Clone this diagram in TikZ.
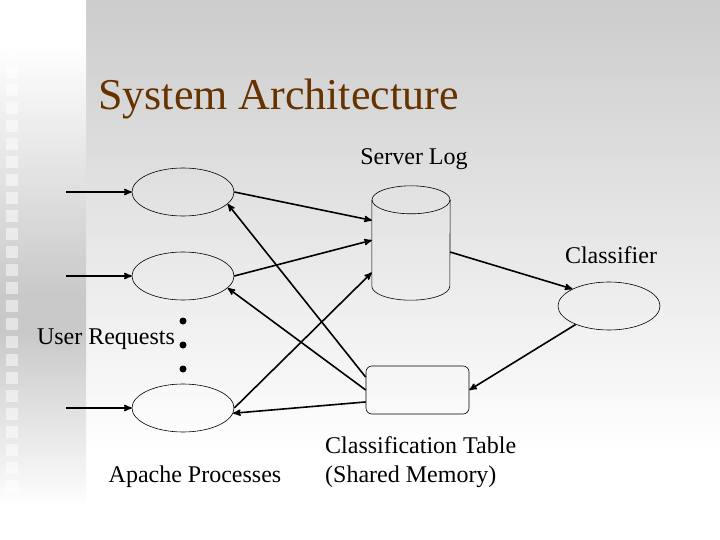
\documentclass[tikz,border=0pt]{standalone}
\usepackage{fontspec}
\setmainfont{Liberation Serif}
\usepackage{tikz}
\usetikzlibrary{calc}
\usetikzlibrary{arrows,shapes}
\definecolor{titlebrown}{RGB}{102,51,0}
\pgfdeclareverticalshading{mainfade}{100bp}{color(0bp)=(white); color(33bp)=(white); color(75bp)=(rgb:black,51;white,204); color(100bp)=(rgb:black,51;white,204)}
\pgfdeclareverticalshading{stripfade}{100bp}{color(0bp)=(white); color(28bp)=(white); color(44bp)=(black!21!white); color(48bp)=(black!21!white); color(71bp)=(white); color(100bp)=(white)}
\newcommand{\LabelFont}{\fontsize{24}{29}\selectfont}
\newcommand{\TitleFont}{\fontsize{44}{50}\selectfont}

\begin{document}
\begin{tikzpicture}[x=1pt,y=-1pt,>=stealth'
        ,process/.style = {draw=black,line width=.6pt,ellipse,inner sep=0pt,minimum width=102pt,minimum height=48pt}
        ,store/.style = {rectangle,inner sep=0pt,minimum width=78pt,minimum height=114pt}
        ,outline/.style = {draw=black,line width=.6pt}
        ,tablebox/.style = {draw=black,line width=.6pt,rectangle,rounded corners=6pt,inner sep=0pt,minimum width=103pt,minimum height=48pt}
        ,dot/.style = {circle,fill=black,inner sep=0pt,minimum size=7pt}
        ,label/.style = {font=\LabelFont,inner sep=0pt}
        ,link/.style = {->,line width=1.6pt}
      ]

      \useasboundingbox (0,0) rectangle (720,540);
      \fill[shading=mainfade] (86,0) rectangle (720,540);
      \fill[shading=stripfade] (0,0) rectangle (86,540);
      \foreach \y in {30,48,...,480}
        \fill[white,opacity=.5] (6,\y) rectangle (18,\y+12);

      \node[font=\TitleFont,text=titlebrown,inner sep=0pt,anchor=base west](title) at (98,110) {System Architecture};

      \node[process](procone) at (183,192) {};
      \node[process](proctwo) at (183,276) {};
      \node[process](procthree) at (183,408) {};
      \node[store](log) at (411,243) {};
      \node[process](classifier) at (609,306) {};
      \node[tablebox](table) at (417.5,390) {};

      \draw[outline] ($(log.north)+(0,14)$) circle [x radius=39pt,y radius=14pt];
      \draw[outline] ($(log.north west)+(0,14)$) -- ($(log.south west)+(0,-14)$)
        arc [start angle=180,end angle=360,x radius=39pt,y radius=14pt]
        -- ($(log.north east)+(0,14)$);

      \node[dot](dotone) at (183,321) {};
      \node[dot](dottwo) at (183,345) {};
      \node[dot](dotthree) at (183,369) {};

      \node[label](loglabel) at (414,159) {Server Log};
      \node[label](classifierlabel) at (611,255) {Classifier};
      \node[label](userlabel) at (106,339) {User Requests};
      \node[label](apachelabel) at (195,477) {Apache Processes};
      \node[label,anchor=west,align=left](tablelabel) at (325,462) {Classification Table\\(Shared Memory)};

      \coordinate(inone) at (66,192);
      \coordinate(intwo) at (66,276);
      \coordinate(inthree) at (66,408);

      \draw[link] (inone) -- (procone);
      \draw[link] (intwo) -- (proctwo);
      \draw[link] (inthree) -- (procthree);

      \draw[link] (procone.east) -- (log.150);
      \draw[link] (proctwo.east) -- (log.176);
      \draw[link] (procthree.east) -- (log.217);
      \draw[link] (log.-13) -- (classifier.155);
      \draw[link] (classifier.209) -- (table.east);
      \draw[link] (table.166) -- (procone.-15);
      \draw[link] (table.west) -- (proctwo.-15);
      \draw[link] (table.193) -- (procthree.-6);
    \end{tikzpicture}
\end{document}
